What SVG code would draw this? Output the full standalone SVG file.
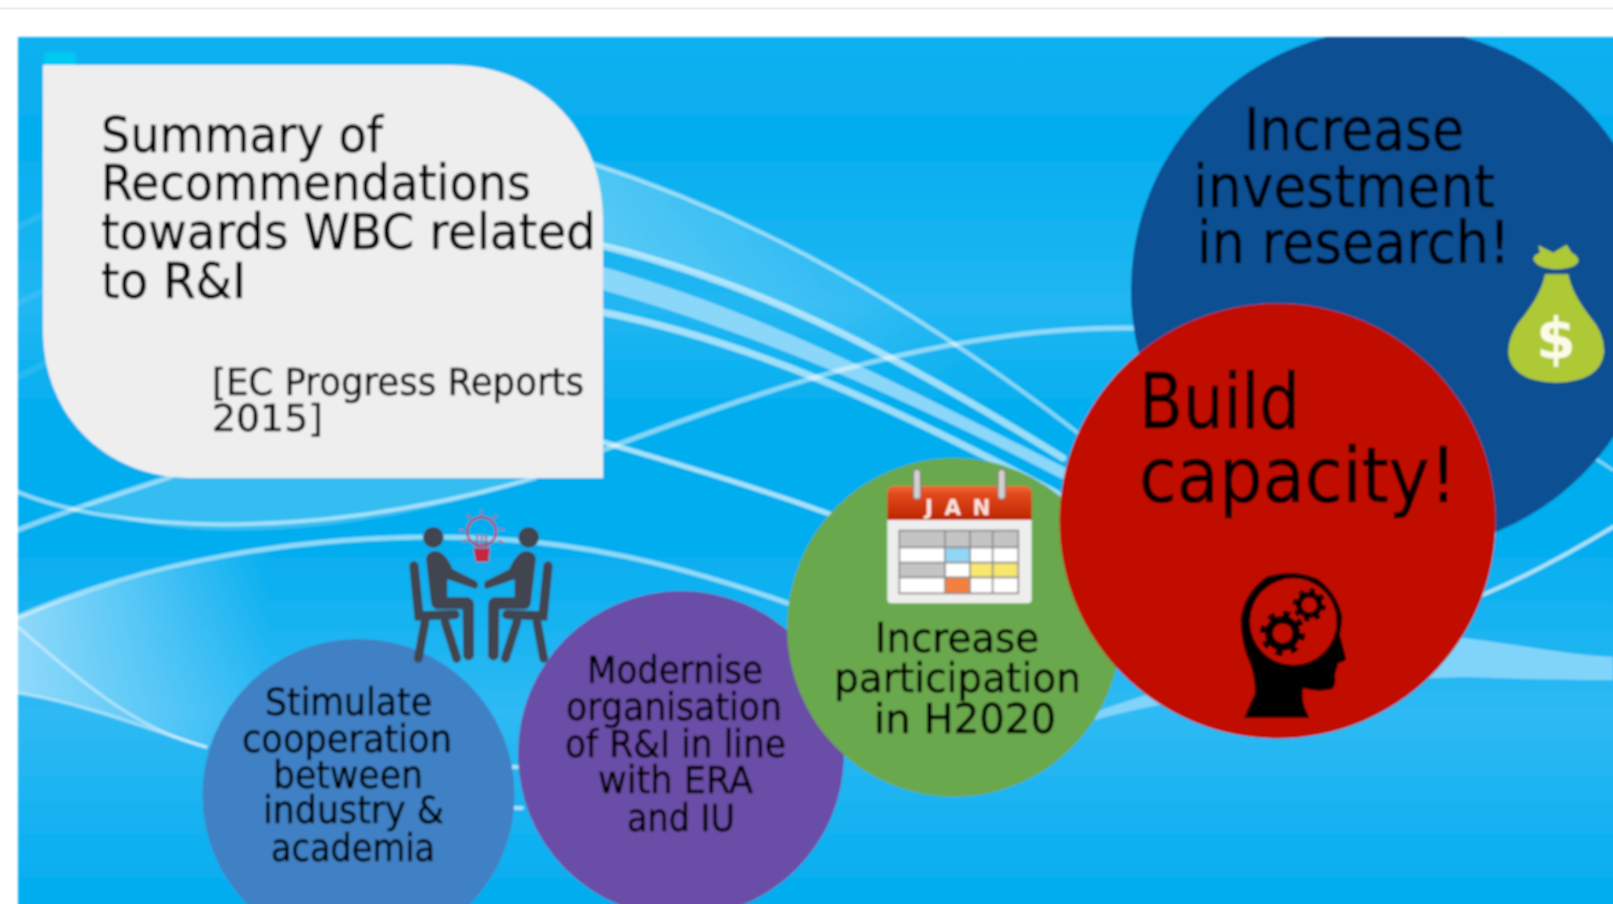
<svg xmlns="http://www.w3.org/2000/svg" width="1613" height="904" viewBox="0 0 1613 904">
<style>
.t{font-family:"DejaVu Sans","Liberation Sans",sans-serif;fill:#000;stroke:#000;stroke-width:.5}
.s{fill:none;stroke:#fff;stroke-linecap:round}
.f{fill:#3f4450}
.c{fill:none;stroke:#3f4450;stroke-linecap:round}
.r{fill:none;stroke:#c4283c;stroke-linecap:round}
.g{fill:none;stroke:#8a8a8a;stroke-width:5}
</style>
<defs>
<clipPath id="panel"><rect x="18" y="37" width="1620" height="890"/></clipPath>
<linearGradient id="bg" gradientUnits="userSpaceOnUse" x1="0" y1="37" x2="0" y2="904">
<stop offset="0" stop-color="#12b0f0"/><stop offset=".12" stop-color="#03aeef"/><stop offset=".31" stop-color="#22b7f3"/><stop offset=".43" stop-color="#03aeef"/><stop offset=".58" stop-color="#02adef"/><stop offset=".78" stop-color="#2fbaf4"/><stop offset=".9" stop-color="#16b2f1"/><stop offset="1" stop-color="#00adef"/>
</linearGradient>
<linearGradient id="wedge" gradientUnits="userSpaceOnUse" x1="18" y1="0" x2="270" y2="0">
<stop offset="0" stop-color="#8fd9fa"/><stop offset="1" stop-color="#8fd9fa" stop-opacity="0"/>
</linearGradient>
<linearGradient id="upper" gradientUnits="userSpaceOnUse" x1="600" y1="0" x2="960" y2="0">
<stop offset="0" stop-color="#fff" stop-opacity=".28"/><stop offset="1" stop-color="#fff" stop-opacity="0"/>
</linearGradient>
<linearGradient id="hdr" x1="0" y1="0" x2="0" y2="1">
<stop offset="0" stop-color="#ee6a3a"/><stop offset=".25" stop-color="#e04a1c"/><stop offset="1" stop-color="#bd2600"/>
</linearGradient>
<filter id="soft" x="-20" y="-20" width="1660" height="950" filterUnits="userSpaceOnUse"><feGaussianBlur stdDeviation="1"/></filter>
</defs>
<rect width="1613" height="904" fill="#fff"/>
<rect x="0" y="7.5" width="1613" height="2" fill="#e9ebec"/>
<g filter="url(#soft)">
<g clip-path="url(#panel)">
<g id="background">
<rect x="18" y="37" width="1620" height="890" fill="url(#bg)"/>
<path d="M591 163C720 205 880 280 1078 433L1063 458C880 345 750 280 591 243Z" fill="url(#upper)"/>
<path d="M82 505L170 477L535 478C400 525 250 540 154 525C120 518 100 512 82 505Z" fill="#fff" opacity=".2"/>
<path d="M18 617C80 590 180 565 300 545L300 720L206 747C150 730 90 705 18 693Z" fill="url(#wedge)"/>
<path d="M1095 712C1200 676 1320 640 1465 638C1520 645 1570 655 1613 657V680C1540 680 1500 678 1465 677C1350 680 1200 690 1095 720Z" fill="#80d4f9"/>
<g class="swoosh">
<path class="s" stroke-width="4" opacity=".5" d="M591 163C720 205 880 280 1078 433"/>
<path class="s" stroke-width="7" opacity=".6" d="M591 243C750 280 880 345 1063 458"/>
<path d="M596 265C760 310 900 385 1070 470V483C900 395 760 335 596 288Z" fill="#8ad7fa"/>
<path class="s" stroke-width="7" opacity=".6" d="M596 311C750 340 900 410 1060 495"/>
<path class="s" stroke-width="5" opacity=".5" d="M18 530C60 513 110 497 170 477"/>
<path class="s" stroke-width="5" opacity=".5" d="M603 450C760 390 950 325 1135 328"/>
<path class="s" stroke-width="4" opacity=".55" d="M18 492C110 530 300 545 535 478"/>
<path class="s" stroke-width="5" opacity=".65" d="M603 442C680 465 750 485 835 516"/>
<path class="s" stroke-width="5" opacity=".55" d="M18 617C150 560 300 537 437 537C570 537 680 565 790 604"/>
<path class="s" stroke-width="3" opacity=".45" d="M18 627C90 690 140 730 206 747"/>
<path class="s" stroke-width="3" opacity=".45" d="M18 693C90 705 150 730 206 747"/>
<path class="s" stroke-width="4" opacity=".6" d="M510 767L520 767M510 808L522 808"/>
<path class="s" stroke-width="4" opacity=".65" d="M1480 596C1530 575 1575 550 1613 527"/>
<path class="s" stroke-width="3" opacity=".5" d="M1590 455L1613 470"/>
<path class="s" stroke-width="6" opacity=".1" d="M18 227L46 213M18 303L46 290M18 377L46 363"/>
</g>
</g>
<g id="card">
<rect x="44" y="52" width="32" height="14" rx="4" fill="#00c8f0"/>
<path d="M43 65H452C540 65 603 130 603 222V478H190C110 478 43 420 43 330Z" fill="#eeeeee"/>
<g class="t" font-size="49">
<text x="101" y="152" textLength="282" lengthAdjust="spacingAndGlyphs">Summary of</text>
<text x="101" y="200" textLength="430" lengthAdjust="spacingAndGlyphs">Recommendations</text>
<text x="101" y="249" textLength="495" lengthAdjust="spacingAndGlyphs">towards WBC related</text>
<text x="101" y="298" textLength="145" lengthAdjust="spacingAndGlyphs">to R&amp;I</text>
</g>
<g class="t" font-size="38">
<text x="212" y="395" textLength="372" lengthAdjust="spacingAndGlyphs">[EC Progress Reports</text>
<text x="212" y="431" textLength="111" lengthAdjust="spacingAndGlyphs">2015]</text>
</g>
</g>
<g id="node-invest">
<ellipse cx="1395" cy="290" rx="264" ry="262" fill="#0c5093"/>
<g class="t" font-size="58">
<text x="1244" y="150" textLength="220" lengthAdjust="spacingAndGlyphs">Increase</text>
<text x="1193" y="207" textLength="302" lengthAdjust="spacingAndGlyphs">investment</text>
<text x="1197" y="263" textLength="313" lengthAdjust="spacingAndGlyphs">in research!</text>
</g>
<g id="icon-money" transform="translate(1490 230) scale(.3333)">
<path fill="#adc936" d="M130 88Q130 75 150 68L145 46L190 68L230 44L245 68Q268 80 265 95Q255 115 200 118Q140 115 130 88Z"/>
<path fill="#adc936" d="M165 133L235 133Q245 190 300 260Q345 310 342 370Q330 455 200 458Q65 455 55 370Q55 310 100 260Q155 190 165 133Z"/>
<text x="198" y="385" text-anchor="middle" font-size="170" font-weight="700" font-family="'DejaVu Sans',sans-serif" fill="#fdfbe8">$</text>
</g>
</g>
<g id="node-stimulate">
<circle cx="358.500" cy="795" r="156" fill="#4080c4"/>
<g class="t" font-size="37">
<text x="265" y="715" textLength="167" lengthAdjust="spacingAndGlyphs">Stimulate</text>
<text x="242" y="752" textLength="210" lengthAdjust="spacingAndGlyphs">cooperation</text>
<text x="273" y="788" textLength="150" lengthAdjust="spacingAndGlyphs">between</text>
<text x="263" y="823" textLength="181" lengthAdjust="spacingAndGlyphs">industry &amp;</text>
<text x="271" y="861" textLength="164" lengthAdjust="spacingAndGlyphs">academia</text>
</g>
</g>
<g id="node-modernise">
<circle cx="681" cy="754" r="163" fill="#6a4ea6"/>
<g class="t" font-size="37">
<text x="587" y="683" textLength="176" lengthAdjust="spacingAndGlyphs">Modernise</text>
<text x="566" y="720" textLength="216" lengthAdjust="spacingAndGlyphs">organisation</text>
<text x="565" y="757" textLength="221" lengthAdjust="spacingAndGlyphs">of R&amp;I in line</text>
<text x="598" y="793" textLength="155" lengthAdjust="spacingAndGlyphs">with ERA</text>
<text x="627" y="831" textLength="108" lengthAdjust="spacingAndGlyphs">and IU</text>
</g>
</g>
<g id="icon-meeting" transform="translate(390 500) scale(.3333)">
<g id="person-left">
<circle class="f" cx="130" cy="112" r="31"/>
<path class="f" d="M108 175Q113 153 140 153Q167 158 188 208L258 243Q271 255 257 267L172 238L172 292L235 292Q252 298 252 315L252 470Q235 492 220 470L218 328L140 328Q123 322 123 305Z"/>
<path class="c" stroke-width="28" d="M72 198L87 348L195 344"/>
<path class="c" stroke-width="26" d="M105 365L85 475M165 365L200 475"/>
</g>
<g id="person-right" transform="translate(546 0) scale(-1 1)">
<circle class="f" cx="130" cy="112" r="31"/>
<path class="f" d="M108 175Q113 153 140 153Q167 158 188 208L258 243Q271 255 257 267L172 238L172 292L235 292Q252 298 252 315L252 470Q235 492 220 470L218 328L140 328Q123 322 123 305Z"/>
<path class="c" stroke-width="28" d="M72 198L87 348L195 344"/>
<path class="c" stroke-width="26" d="M105 365L85 475M165 365L200 475"/>
</g>
<circle class="r" cx="275" cy="95" r="43" stroke-width="6"/>
<path fill="#c4283c" d="M250 145H300L295 185H258Z"/>
<path class="r" stroke-width="4" d="M262 105V140M275 105V140M288 105V140M275 32V42M232 45L240 55M318 45L310 55M208 92H220M342 88H332M218 125L230 120M340 128L325 122"/>
</g>
<g id="node-participation">
<ellipse cx="954" cy="627.500" rx="167" ry="169.500" fill="#6aa84e"/>
<g class="t" font-size="40">
<text x="875" y="652" textLength="164" lengthAdjust="spacingAndGlyphs">Increase</text>
<text x="834" y="692" textLength="247" lengthAdjust="spacingAndGlyphs">participation</text>
<text x="874" y="733" textLength="182" lengthAdjust="spacingAndGlyphs">in H2020</text>
</g>
<g id="icon-calendar" transform="translate(870 460) scale(.3333)">
<rect x="52" y="170" width="433" height="260" rx="12" fill="#eeeeee"/>
<path d="M52 180V100Q52 78 74 78H463Q485 78 485 100V180Z" fill="url(#hdr)"/>
<rect x="88" y="212" width="357" height="188" fill="#fff"/>
<rect x="88" y="212" width="357" height="50" fill="#c4c4c4"/>
<rect x="88" y="308" width="137" height="44" fill="#c4c4c4"/>
<rect x="225" y="262" width="75" height="46" fill="#93d5f5"/>
<rect x="300" y="308" width="145" height="44" fill="#f7e76e"/>
<rect x="225" y="352" width="75" height="48" fill="#f5803e"/>
<path class="g" d="M88 212H445V400H88ZM225 212V400M300 212V400M368 212V400M88 262H445M88 308H445M88 352H445"/>
<rect x="130" y="28" width="22" height="90" rx="11" fill="#d0d0d0" stroke="#7a6a60" stroke-width="3"/>
<rect x="384" y="28" width="22" height="90" rx="11" fill="#d0d0d0" stroke="#7a6a60" stroke-width="3"/>
<text x="165" y="165" textLength="196" font-size="64" font-weight="700" font-family="'DejaVu Sans',sans-serif" fill="#fbe4dc" lengthAdjust="spacing">JAN</text>
</g>
</g>
<g id="node-capacity">
<ellipse cx="1277.500" cy="521" rx="218" ry="217.500" fill="#c00d00"/>
<g class="t" font-size="77">
<text x="1139" y="428" textLength="161" lengthAdjust="spacingAndGlyphs">Build</text>
<text x="1139" y="502" textLength="318" lengthAdjust="spacingAndGlyphs">capacity!</text>
</g>
<g id="icon-head" transform="translate(1220 560) scale(.3333)">
<path fill="#000" fill-rule="evenodd" d="M72 473L105 400Q105 350 90 310Q65 260 62 180Q70 100 140 50Q215 25 290 55Q350 95 367 170Q365 200 360 225L378 295Q378 305 355 310Q350 330 345 345Q350 375 335 388Q290 398 250 385Q240 420 268 473ZM220 55A130 130 0 1 0 220 315A130 130 0 1 0 220 55Z"/>
<circle cx="188" cy="220" r="41" fill="none" stroke="#000" stroke-width="23"/>
<circle cx="188" cy="220" r="60" fill="none" stroke="#000" stroke-width="16" stroke-dasharray="21 26.100"/>
<circle cx="268" cy="135" r="31" fill="none" stroke="#000" stroke-width="17"/>
<circle cx="268" cy="135" r="44" fill="none" stroke="#000" stroke-width="12" stroke-dasharray="16 18.500"/>
</g>
</g>
</g>
</g>
</svg>
